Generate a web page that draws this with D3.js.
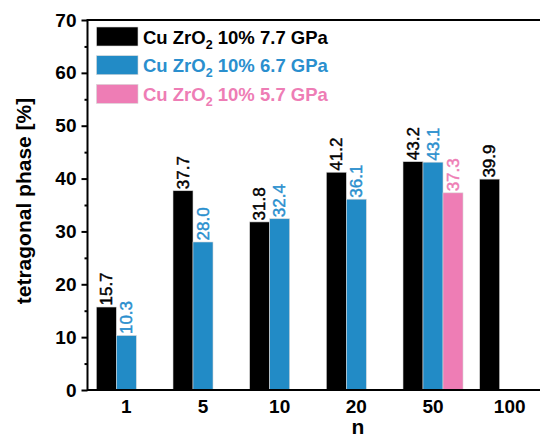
<!DOCTYPE html>
<html><head><meta charset="utf-8">
<script src="https://cdn.jsdelivr.net/npm/d3@7"></script>
<style>body{margin:0;background:#fff}svg{display:block}text{font-family:"Liberation Sans",Arial,sans-serif}</style>
</head><body><svg id="c" width="540" height="436"></svg>
<script>
const categories = ["1","5","10","20","50","100"];
const black77 = [15.7, 37.7, 31.8, 41.2, 43.2, 39.9];
const blue67 = [10.3, 28.0, 32.4, 36.1, 43.1, null];
const pink57 = [null, null, null, null, 37.3, null];
const seriesNames = ["Cu ZrO|2| 10% 7.7 GPa", "Cu ZrO|2| 10% 6.7 GPa", "Cu ZrO|2| 10% 5.7 GPa"];
const yTicks = [0,10,20,30,40,50,60,70];

const colors = ["#000000", "#228bc6", "#ee7db5"];
const labelColors = ["#000000", "#2a8fce", "#ee7db5"];
const series = [black77, blue67, pink57];

const svg = d3.select("#c");
const pL = 87.5, pR = 548, pT = 20, pB = 390;
const y = d3.scaleLinear().domain([0,70]).range([pB, pT]);
const x0 = d3.scaleBand().domain(categories).range([pL + 0.5, pR]).paddingInner(0).paddingOuter(0);
const x1 = d3.scaleBand().domain([0,1,2]).range([0, 60]);

// bars
series.forEach((vals, si) => {
  const g = svg.append("g");
  categories.forEach((c, i) => {
    const v = vals[i];
    if (v == null) return;
    const bx = x0(c) + x0.bandwidth()/2 - 30 + x1(si);
    g.append("rect").attr("x", bx).attr("y", y(v)).attr("width", x1.bandwidth()).attr("height", y(0) - y(v))
      .attr("fill", colors[si]).attr("stroke", "#d8d8d8").attr("stroke-width", 0.6);
    g.append("text").attr("transform", `translate(${bx + x1.bandwidth()/2},${y(v) - 1.5}) rotate(-90)`)
      .attr("dominant-baseline", "central").attr("font-size", 17).attr("fill", labelColors[si])
      .attr("stroke", labelColors[si]).attr("stroke-width", 0.45)
      .text(v.toFixed(1));
  });
});

// y axis
const yAxis = d3.axisLeft(y).tickValues(yTicks).tickSize(6).tickPadding(5).tickFormat(d3.format("d"));
const ya = svg.append("g").attr("transform", `translate(${pL},0)`).call(yAxis);
ya.select(".domain").remove();
ya.selectAll("line").attr("stroke-width", 2);
ya.selectAll("text").attr("font-size", 19).attr("font-weight", "bold").attr("fill", "#000");
const yMinor = d3.axisLeft(y).tickValues(yTicks.slice(0,-1).map(d => d + 5)).tickSize(3).tickFormat("");
const ym = svg.append("g").attr("transform", `translate(${pL},0)`).call(yMinor);
ym.select(".domain").remove();
ym.selectAll("line").attr("stroke-width", 2);

// x axis labels
const xAxis = d3.axisBottom(x0).tickSize(0).tickPadding(10);
const xa = svg.append("g").attr("transform", `translate(0,${pB})`).call(xAxis);
xa.select(".domain").remove();
xa.selectAll("text").attr("font-size", 19).attr("font-weight", "bold").attr("fill", "#000");

// frame
svg.append("path").attr("d", `M${pL},${pT}H${pR}M${pL},${pT-1}V${pB+1}M${pL-1},${pB}H${pR}`)
  .attr("stroke", "#000").attr("stroke-width", 2).attr("fill", "none");

// axis titles
svg.append("text").attr("x", 358).attr("y", 433.5).attr("text-anchor", "middle")
  .attr("font-size", 21).attr("font-weight", "bold").text("n");
svg.append("text").attr("transform", "translate(31,201) rotate(-90)").attr("text-anchor", "middle")
  .attr("font-size", 21).attr("font-weight", "bold").text("tetragonal phase [%]");

// legend
const leg = svg.append("g");
seriesNames.forEach((name, i) => {
  const cy = 36.5 + i * 28.7;
  leg.append("rect").attr("x", 96.5).attr("y", cy - 9.5).attr("width", 41.5).attr("height", 19)
    .attr("fill", colors[i]).attr("stroke", "#d8d8d8").attr("stroke-width", 0.6);
  const parts = name.split("|");
  const t = leg.append("text").attr("x", 143).attr("y", cy + 7).attr("font-size", 18.5)
    .attr("font-weight", "bold").attr("fill", labelColors[i]);
  t.append("tspan").text(parts[0]);
  t.append("tspan").attr("font-size", 12.5).attr("dy", 5).text(parts[1]);
  t.append("tspan").attr("dy", -5).text(parts[2]);
});
</script></body></html>
